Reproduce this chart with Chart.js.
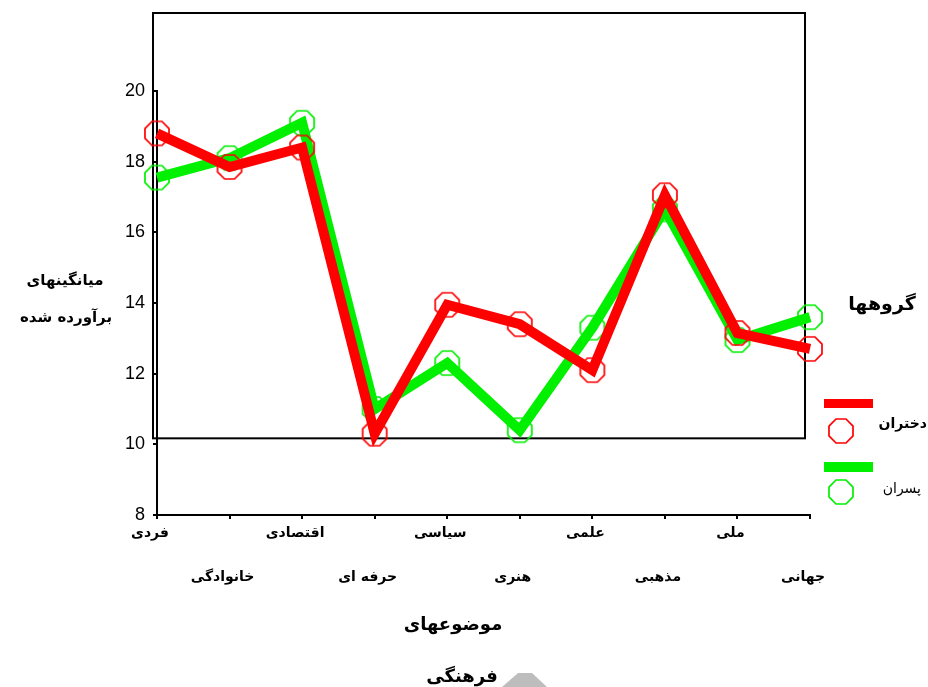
<!DOCTYPE html>
<html>
<head>
<meta charset="utf-8">
<script src="https://cdn.jsdelivr.net/npm/chart.js@4"></script>
<style>
  html, body { margin: 0; padding: 0; background: #fff; }
  canvas { display: block; }
</style>
</head>
<body>
<canvas id="lineChart" width="928" height="687"></canvas>
<script>
const categories = ['فردی', 'خانوادگی', 'اقتصادی', 'حرفه ای', 'سیاسی', 'هنری', 'علمی', 'مذهبی', 'ملی', 'جهانی'];
const dokhtaran = [18.8, 17.85, 18.4, 10.3, 13.95, 13.4, 12.1, 17.05, 13.15, 12.7];
const pesaran = [17.55, 18.1, 19.1, 11.0, 12.3, 10.4, 13.3, 16.65, 12.95, 13.6];
const yTicks = [8, 10, 12, 14, 16, 18, 20];

const persianFont = '"DejaVu Sans", sans-serif';

// octagon marker, drawn once and used as point image
function octagon(color) {
  const c = document.createElement('canvas');
  c.width = 30; c.height = 30;
  const g = c.getContext('2d');
  g.strokeStyle = color;
  g.lineWidth = 1.7;
  g.beginPath();
  for (let i = 0; i < 8; i++) {
    const a = Math.PI / 8 + i * Math.PI / 4;
    const px = 15 + 13 * Math.cos(a), py = 15 + 13 * Math.sin(a);
    if (i === 0) g.moveTo(px, py); else g.lineTo(px, py);
  }
  g.closePath();
  g.stroke();
  return c;
}
const redOct = octagon('#ff0000');
const greenOct = octagon('#00f000');

const decor = {
  id: 'decor',
  beforeDatasetsDraw(chart) {
    const { ctx, chartArea, scales } = chart;
    const yb = scales.y.getPixelForValue(10) - 6;
    ctx.save();
    ctx.strokeStyle = '#000';
    ctx.lineWidth = 2;
    ctx.strokeRect(chartArea.left - 4, chartArea.top - 78, chartArea.right - chartArea.left - 1, yb - (chartArea.top - 78));
    ctx.restore();
  },
  afterDraw(chart) {
    const { ctx, chartArea } = chart;
    ctx.save();
    ctx.fillStyle = '#000';
    ctx.textAlign = 'center';
    ctx.textBaseline = 'middle';

    // y title
    ctx.font = 'bold 15px ' + persianFont;
    ctx.fillText('میانگینهای', 65, 281);
    ctx.fillText('برآورده شده', 66, 318);

    // x title
    ctx.font = 'bold 18px ' + persianFont;
    ctx.fillText('موضوعهای', 453, 625);
    ctx.fillText('فرهنگی', 462, 677);

    // legend
    const lx = chartArea.right + 14;
    ctx.font = 'bold 19px ' + persianFont;
    ctx.fillText('گروهها', 882, 305);
    ctx.fillStyle = '#ff0000';
    ctx.fillRect(lx, 399, 49, 9);
    ctx.drawImage(redOct, 841 - 15, 431 - 15);
    ctx.fillStyle = '#00f000';
    ctx.fillRect(lx, 462, 49, 10);
    ctx.drawImage(greenOct, 841 - 15, 492 - 15);
    ctx.fillStyle = '#000';
    ctx.textAlign = 'right';
    ctx.font = 'bold 14px ' + persianFont;
    ctx.fillText('دختران', 927, 424);
    ctx.font = '14px ' + persianFont;
    ctx.fillText('پسران', 921, 489);

    // grey mark near the bottom
    ctx.fillStyle = '#bdbdbd';
    ctx.beginPath();
    ctx.moveTo(502, 687);
    ctx.lineTo(518, 673);
    ctx.lineTo(532, 673);
    ctx.lineTo(547, 687);
    ctx.closePath();
    ctx.fill();
    ctx.restore();
  }
};

new Chart(document.getElementById('lineChart'), {
  type: 'line',
  data: {
    labels: categories,
    datasets: [
      {
        label: 'دختران',
        data: dokhtaran,
        borderColor: '#ff0000',
        backgroundColor: '#ff0000',
        borderWidth: 10,
        borderJoinStyle: 'miter',
        pointStyle: redOct,
        pointRadius: 13,
        tension: 0
      },
      {
        label: 'پسران',
        data: pesaran,
        borderColor: '#00f000',
        backgroundColor: '#00f000',
        borderWidth: 10,
        borderJoinStyle: 'miter',
        pointStyle: greenOct,
        pointRadius: 13,
        tension: 0
      }
    ]
  },
  options: {
    responsive: false,
    animation: false,
    devicePixelRatio: 1,
    layout: { padding: { top: 91, right: 118, left: 0, bottom: 0 } },
    scales: {
      x: {
        offset: false,
        grid: { drawOnChartArea: false, tickLength: 4, color: '#000', lineWidth: 2 },
        border: { color: '#000', width: 2 },
        ticks: {
          autoSkip: false,
          maxRotation: 0,
          color: '#000',
          padding: 4,
          labelOffset: -7,
          font: { family: persianFont, size: 14, weight: 'bold', lineHeight: 1.55 },
          callback: (v, i) => i % 2 === 0 ? [categories[i]] : ['', '', categories[i]]
        },
        afterFit: (s) => { s.height = 172; }
      },
      y: {
        min: 8,
        max: 20,
        afterBuildTicks: (s) => { s.ticks = yTicks.map(v => ({ value: v })); },
        grid: { drawOnChartArea: false, tickLength: 4, color: '#000', lineWidth: 2 },
        border: { color: '#000', width: 2 },
        ticks: {
          color: '#000',
          padding: 8,
          font: { family: '"Liberation Sans", Arial, sans-serif', size: 18 }
        },
        afterFit: (s) => { s.width = 157; }
      }
    },
    plugins: {
      legend: { display: false },
      tooltip: { enabled: false }
    }
  },
  plugins: [decor]
});
</script>
</body>
</html>
